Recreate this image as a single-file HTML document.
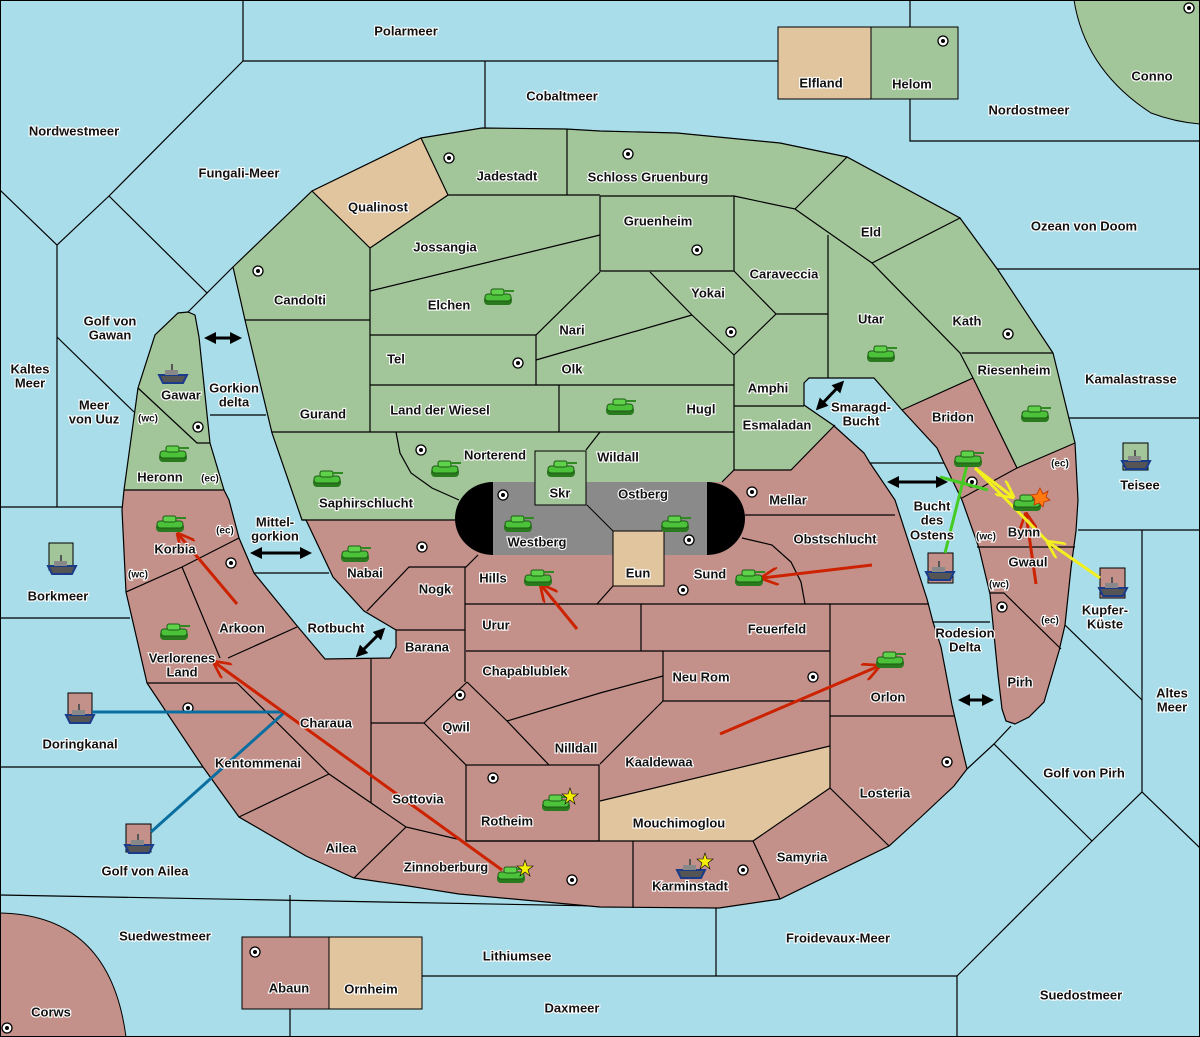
<!DOCTYPE html>
<html><head><meta charset="utf-8"><style>
html,body{margin:0;padding:0;background:#a9dde9}
svg{display:block}
text{font-family:"Liberation Sans",sans-serif;font-weight:bold;font-size:13px;fill:#111;stroke:#fff;stroke-width:2.2px;paint-order:stroke;text-anchor:middle;dominant-baseline:middle}
text.s{font-size:10px}
.b{fill:none;stroke:#000;stroke-width:1.2}
</style></head><body>
<svg width="1200" height="1037" viewBox="0 0 1200 1037" xmlns="http://www.w3.org/2000/svg">
<defs>
<clipPath id="land"><polygon id="lp" points="233,267 312,191 421,138 482,128 566,129 600,131 677,133 780,143 847,157 960,218 998,270 1053,353 1075,443 1078,500 1076,531 1071,568 1065,625 1059,651 1044,702 1029,717 1015,724 1006,721 1002,709 998,675 990,594 979,548 962,500 944,463 937,448 902,410 874,378 809,378 804,383 804,405 833,425 864,453 870,463 895,500 906,534 927,599 933,622 941,647 952,705 960,740 967,769 954,786 921,817 889,846 780,899 719,908 600,907 459,894 402,885 354,878 306,856 239,817 203,767 147,683 126,592 122,510 124,490 138,388 155,335 178,313 188,312 195,315 199,337 210,443 224,490 229,500 239,538 254,573 298,627 325,659 390,658 396,647 396,630 364,611 333,577 306,520 302,520 272,433 245,320"/></clipPath>
<g id="tank"><rect x="-14" y="-2" width="28" height="9" rx="4" fill="#2a7a1e"/><rect x="-13" y="-4" width="26" height="7" rx="3" fill="#4cc23a" stroke="#1d5a14" stroke-width="1"/><rect x="-7" y="-9" width="13" height="6" rx="2" fill="#5fd14a" stroke="#1d5a14" stroke-width="1"/><rect x="5" y="-8" width="11" height="2" fill="#2f8a22"/></g>
<g id="ship"><path d="M-14,0 H14 L10,8 H-10 Z" fill="#555" stroke="#1a3a8a" stroke-width="2"/><rect x="-8" y="-5" width="13" height="5" fill="#888"/><rect x="-2" y="-11" width="2" height="6" fill="#555"/></g>
<g id="sc"><circle r="5" fill="#fff" stroke="#000" stroke-width="1.3"/><circle r="2" fill="#000"/></g>
<marker id="ar" viewBox="0 0 10 10" refX="9" refY="5" markerWidth="6" markerHeight="6" orient="auto"><path d="M0,0 L10,5 L0,10" fill="none" stroke="#cc2200" stroke-width="1.5"/></marker>
<marker id="ay" viewBox="0 0 10 10" refX="9" refY="5" markerWidth="6" markerHeight="6" orient="auto"><path d="M0,0 L10,5 L0,10" fill="none" stroke="#f3f020" stroke-width="1.5"/></marker>
<marker id="dh" viewBox="0 0 10 10" refX="5" refY="5" markerWidth="4" markerHeight="4" orient="auto-start-reverse"><path d="M0,0 L10,5 L0,10 Z" fill="#000"/></marker>
</defs>
<rect width="1200" height="1037" fill="#a9dde9"/>
<g class="b">
<polyline points="243,0 243,61 778,61"/><line x1="485" y1="61" x2="485" y2="128"/>
<polyline points="243,61 109,196 57,245 0,190"/><line x1="57" y1="245" x2="57" y2="507"/>
<polyline points="109,196 207,293 188,312"/><line x1="207" y1="293" x2="233" y2="267"/>
<line x1="57" y1="337" x2="134" y2="412"/><line x1="0" y1="507" x2="122" y2="507"/>
<line x1="210" y1="415" x2="266" y2="415"/><line x1="254" y1="573" x2="329" y2="573"/>
<line x1="0" y1="618" x2="130" y2="618"/><line x1="0" y1="767" x2="203" y2="767"/>
<polyline points="0,895 600,906"/><line x1="290" y1="895" x2="290" y2="1037"/>
<line x1="422" y1="976" x2="600" y2="976"/><line x1="716" y1="907" x2="716" y2="976"/>
<polyline points="600,976 957,976 957,1037"/>
<polyline points="957,976 1092,841 1142,792 1200,848"/>
<polyline points="1092,841 994,744 967,769"/><line x1="994" y1="744" x2="1011" y2="726"/>
<line x1="1142" y1="792" x2="1142" y2="530"/><line x1="1078" y1="530" x2="1200" y2="530"/>
<line x1="1065" y1="625" x2="1142" y2="700"/>
<line x1="933" y1="622" x2="990" y2="622"/><line x1="870" y1="463" x2="944" y2="463"/>
<line x1="910" y1="0" x2="910" y2="27"/><polyline points="910,99 910,141 1200,141"/>
<line x1="996" y1="269" x2="1200" y2="269"/><line x1="1069" y1="418" x2="1200" y2="418"/>
</g>
<path d="M1074,0 Q1085,70 1151,113 Q1175,122 1200,124 V0 Z" fill="#a3c59a" stroke="#000"/>
<path d="M0,913 Q110,915 126,1037 H0 Z" fill="#c4918a" stroke="#000"/>
<rect x="778" y="27" width="93" height="72" fill="#e1c59e" stroke="#000"/>
<rect x="871" y="27" width="87" height="72" fill="#a3c59a" stroke="#000"/>
<rect x="242" y="937" width="87" height="72" fill="#c4918a" stroke="#000"/>
<rect x="329" y="937" width="93" height="72" fill="#e1c59e" stroke="#000"/>
<g clip-path="url(#land)">
<rect width="1200" height="1037" fill="#c4918a"/>
<polygon points="0,0 1200,0 1200,443 1075,443 1017,468 973,378 902,410 840,420 835,425 791,470 734,470 722,482 493,482 493,520 300,520 240,490 0,490" fill="#a3c59a"/>
<polygon points="312,191 370,248 448,195 421,138 300,130" fill="#e1c59e"/>
<polygon points="600,801 830,746 830,788 753,841 600,841" fill="#e1c59e"/>
</g>
<use href="#lp" fill="none" stroke="#000" stroke-width="1.2"/>
<g class="b">
<polyline points="312,191 370,248 448,195 421,138"/>
<line x1="370" y1="248" x2="370" y2="432"/><line x1="448" y1="195" x2="600" y2="195"/>
<polyline points="600,196 734,196 734,271 600,271 600,196"/>
<line x1="567" y1="129" x2="567" y2="195"/>
<line x1="370" y1="291" x2="600" y2="235"/>
<polyline points="370,335 536,335 600,272"/><line x1="536" y1="335" x2="536" y2="385"/>
<polyline points="650,272 692,315 734,355"/><line x1="692" y1="315" x2="536" y2="360"/>
<line x1="370" y1="385" x2="734" y2="385"/><line x1="559" y1="385" x2="559" y2="432"/>
<line x1="245" y1="320" x2="370" y2="320"/><line x1="272" y1="432" x2="734" y2="432"/>
<polyline points="396,432 400,453 411,473 432,488 459,500"/>
<line x1="586" y1="450" x2="600" y2="432"/>
<polyline points="138,388 197,443 210,443"/><line x1="124" y1="490" x2="224" y2="490"/>
<polyline points="847,157 795,209 734,196"/>
<polyline points="795,209 872,263 960,353 973,378"/><line x1="872" y1="263" x2="960" y2="218"/>
<line x1="962" y1="353" x2="1053" y2="353"/>
<line x1="828" y1="235" x2="828" y2="378"/><line x1="776" y1="314" x2="828" y2="314"/>
<polyline points="734,271 776,314 734,355"/>
<line x1="734" y1="355" x2="734" y2="470"/><line x1="734" y1="406" x2="804" y2="406"/>
<polyline points="722,482 734,470 791,470 835,425"/>
<polyline points="902,410 973,378 1017,468 1075,443"/><line x1="962" y1="498" x2="1017" y2="468"/>
<line x1="745" y1="515" x2="895" y2="515"/>
<polyline points="742,538 772,545 791,562 801,582 805,604"/>
<line x1="302" y1="520" x2="455" y2="520"/>
<line x1="465" y1="604" x2="929" y2="604"/><line x1="641" y1="604" x2="641" y2="651"/>
<polyline points="367,611 409,567 466,567 478,555"/><line x1="396" y1="630" x2="465" y2="630"/>
<line x1="465" y1="567" x2="465" y2="682"/><line x1="466" y1="651" x2="830" y2="651"/>
<line x1="830" y1="604" x2="830" y2="788"/><polyline points="663,651 663,701 830,701"/>
<polyline points="507,721 600,693 663,676"/><polyline points="600,764 663,701"/>
<polyline points="467,682 507,721 549,765"/>
<polyline points="467,682 424,723 466,765"/>
<line x1="371" y1="659" x2="371" y2="803"/><line x1="371" y1="723" x2="424" y2="723"/>
<polyline points="600,801 830,746"/><polyline points="830,788 753,841 466,841"/>
<rect x="466" y="765" width="133" height="76"/>
<line x1="830" y1="716" x2="954" y2="716"/><line x1="830" y1="788" x2="889" y2="846"/>
<line x1="753" y1="841" x2="780" y2="899"/><line x1="633" y1="841" x2="633" y2="908"/>
<line x1="977" y1="547" x2="1075" y2="547"/>
<polyline points="990,593 1004,593 1061,649"/>
<polyline points="126,592 182,567 239,538"/><line x1="182" y1="567" x2="220" y2="658"/>
<line x1="147" y1="683" x2="237" y2="683"/><line x1="228" y1="658" x2="297" y2="627"/>
<polyline points="237,683 329,774 406,827 457,839"/><line x1="239" y1="817" x2="329" y2="774"/>
<line x1="406" y1="827" x2="354" y2="878"/><line x1="597" y1="604" x2="613" y2="586"/>
</g>
<path d="M493,482 H707 A38,36.5 0 0 1 707,555 H493 A38,36.5 0 0 1 493,482 Z" fill="#000"/>
<rect x="493" y="482" width="214" height="73" fill="#8a8a8a"/>
<line x1="587" y1="505" x2="613" y2="531" stroke="#000"/>
<rect x="535" y="451" width="51" height="54" fill="#a3c59a" stroke="#000"/>
<rect x="613" y="531" width="51" height="55" fill="#e1c59e" stroke="#000"/>
<rect x="49" y="543" width="24" height="27" fill="#a3c59a" stroke="#000"/>
<rect x="1123" y="443" width="25" height="27" fill="#a3c59a" stroke="#000"/>
<rect x="68" y="693" width="24" height="27" fill="#c4918a" stroke="#000"/>
<rect x="126" y="824" width="25" height="28" fill="#c4918a" stroke="#000"/>
<rect x="928" y="553" width="25" height="30" fill="#c4918a" stroke="#000"/>
<rect x="1100" y="568" width="25" height="30" fill="#c4918a" stroke="#000"/>
<g>
<use href="#sc" x="449" y="158"/><use href="#sc" x="628" y="154"/><use href="#sc" x="697" y="250"/><use href="#sc" x="943" y="41"/><use href="#sc" x="258" y="271"/><use href="#sc" x="518" y="363"/><use href="#sc" x="731" y="332"/><use href="#sc" x="1008" y="334"/><use href="#sc" x="198" y="427"/><use href="#sc" x="421" y="450"/><use href="#sc" x="503" y="495"/><use href="#sc" x="689" y="540"/><use href="#sc" x="752" y="492"/><use href="#sc" x="422" y="547"/><use href="#sc" x="231" y="563"/><use href="#sc" x="972" y="482"/><use href="#sc" x="683" y="590"/><use href="#sc" x="1002" y="607"/><use href="#sc" x="188" y="708"/><use href="#sc" x="460" y="695"/><use href="#sc" x="813" y="677"/><use href="#sc" x="947" y="762"/><use href="#sc" x="493" y="778"/><use href="#sc" x="572" y="880"/><use href="#sc" x="743" y="870"/><use href="#sc" x="255" y="952"/><use href="#sc" x="7" y="1028"/><use href="#sc" x="1189" y="8"/>
</g>
<g stroke-width="3" fill="none">
<line x1="92" y1="712" x2="285" y2="712" stroke="#0a6fa0"/><line x1="285" y1="712" x2="151" y2="832" stroke="#0a6fa0"/>
<line x1="237" y1="604" x2="178" y2="534" stroke="#cc2200" marker-end="url(#ar)"/>
<line x1="502" y1="870" x2="214" y2="662" stroke="#cc2200" marker-end="url(#ar)"/>
<line x1="577" y1="629" x2="541" y2="585" stroke="#cc2200" marker-end="url(#ar)"/>
<line x1="872" y1="565" x2="762" y2="578" stroke="#cc2200" marker-end="url(#ar)"/>
<line x1="720" y1="734" x2="879" y2="666" stroke="#cc2200" marker-end="url(#ar)"/>
<line x1="1036" y1="584" x2="1026" y2="514" stroke="#cc2200" marker-end="url(#ar)"/>
<line x1="945" y1="553" x2="967" y2="465" stroke="#44cc22"/><line x1="940" y1="477" x2="988" y2="490" stroke="#44cc22"/>
<line x1="1100" y1="578" x2="1048" y2="542" stroke="#f3f020" marker-end="url(#ay)"/>
<line x1="1048" y1="542" x2="975" y2="468" stroke="#f3f020"/><line x1="975" y1="468" x2="1013" y2="497" stroke="#f3f020" marker-end="url(#ay)"/>
</g>
<g stroke="#000" stroke-width="3" marker-start="url(#dh)" marker-end="url(#dh)">
<line x1="210" y1="338" x2="236" y2="338"/><line x1="256" y1="553" x2="306" y2="553"/>
<line x1="360" y1="653" x2="381" y2="632"/><line x1="820" y1="406" x2="840" y2="385"/>
<line x1="893" y1="482" x2="942" y2="482"/><line x1="964" y1="700" x2="988" y2="700"/>
</g>
<g>
<use href="#tank" x="498" y="298"/><use href="#tank" x="620" y="408"/><use href="#tank" x="881" y="355"/><use href="#tank" x="1035" y="415"/><use href="#tank" x="173" y="455"/><use href="#tank" x="327" y="480"/><use href="#tank" x="445" y="470"/><use href="#tank" x="561" y="470"/><use href="#tank" x="518" y="525"/><use href="#tank" x="675" y="525"/><use href="#tank" x="355" y="555"/><use href="#tank" x="170" y="525"/><use href="#tank" x="538" y="579"/><use href="#tank" x="749" y="579"/><use href="#tank" x="174" y="633"/><use href="#tank" x="890" y="661"/><use href="#tank" x="556" y="804"/><use href="#tank" x="511" y="876"/><use href="#tank" x="968" y="460"/><use href="#tank" x="1027" y="504"/>
<use href="#ship" x="173" y="375"/><use href="#ship" x="940" y="572"/><use href="#ship" x="691" y="870"/><use href="#ship" x="62" y="566"/><use href="#ship" x="1136" y="461"/><use href="#ship" x="80" y="715"/><use href="#ship" x="139" y="845"/><use href="#ship" x="1113" y="588"/>
</g>
<g fill="#f5f000" stroke="#000" stroke-width="0.6">
<polygon points="570,788 572,794 578,794 573,798 575,804 570,800 565,804 567,798 562,794 568,794"/>
<polygon points="525,860 527,866 533,866 528,870 530,876 525,872 520,876 522,870 517,866 523,866"/>
<polygon points="705,853 707,859 713,859 708,863 710,869 705,865 700,869 702,863 697,859 703,859"/>
</g>
<polygon points="1040,488 1043,494 1048,491 1046,497 1050,500 1044,502 1043,507 1039,503 1034,505 1035,499 1031,495 1037,494" fill="#ff7a10" stroke="#c03000" stroke-width="0.8"/>
<g>
<text x="406" y="32">Polarmeer</text><text x="562" y="97">Cobaltmeer</text><text x="821" y="84">Elfland</text><text x="912" y="85">Helom</text><text x="1152" y="77">Conno</text>
<text x="74" y="132">Nordwestmeer</text><text x="239" y="174">Fungali-Meer</text><text x="1029" y="111">Nordostmeer</text>
<text x="507" y="177">Jadestadt</text><text x="648" y="178">Schloss Gruenburg</text><text x="378" y="208">Qualinost</text><text x="658" y="222">Gruenheim</text>
<text x="1084" y="227">Ozean von Doom</text><text x="871" y="233">Eld</text><text x="445" y="248">Jossangia</text><text x="784" y="275">Caraveccia</text>
<text x="300" y="301">Candolti</text><text x="708" y="294">Yokai</text><text x="449" y="306">Elchen</text>
<text x="110" y="322">Golf von</text><text x="110" y="336">Gawan</text><text x="572" y="331">Nari</text><text x="871" y="320">Utar</text><text x="967" y="322">Kath</text>
<text x="396" y="360">Tel</text><text x="572" y="370">Olk</text><text x="30" y="370">Kaltes</text><text x="30" y="384">Meer</text>
<text x="1014" y="371">Riesenheim</text><text x="1131" y="380">Kamalastrasse</text><text x="234" y="389">Gorkion</text><text x="234" y="403">delta</text>
<text x="181" y="396">Gawar</text><text x="768" y="389">Amphi</text><text x="94" y="406">Meer</text><text x="94" y="420">von Uuz</text><text class="s" x="148" y="419">(wc)</text>
<text x="861" y="408">Smaragd-</text><text x="861" y="422">Bucht</text><text x="440" y="411">Land der Wiesel</text><text x="701" y="410">Hugl</text><text x="323" y="415">Gurand</text>
<text x="953" y="418">Bridon</text><text x="777" y="426">Esmaladan</text><text x="495" y="456">Norterend</text><text x="618" y="458">Wildall</text>
<text x="160" y="478">Heronn</text><text class="s" x="210" y="479">(ec)</text><text class="s" x="1060" y="464">(ec)</text><text x="1140" y="486">Teisee</text>
<text x="560" y="494">Skr</text><text x="643" y="495">Ostberg</text><text x="788" y="501">Mellar</text><text x="366" y="504">Saphirschlucht</text>
<text x="275" y="523">Mittel-</text><text x="275" y="537">gorkion</text><text class="s" x="225" y="531">(ec)</text>
<text x="932" y="507">Bucht</text><text x="932" y="521">des</text><text x="932" y="536">Ostens</text><text class="s" x="986" y="537">(wc)</text><text x="1024" y="533">Bynn</text>
<text x="835" y="540">Obstschlucht</text><text x="537" y="543">Westberg</text><text x="175" y="550">Korbia</text><text x="1028" y="563">Gwaul</text>
<text x="365" y="574">Nabai</text><text class="s" x="138" y="575">(wc)</text><text x="638" y="574">Eun</text><text x="710" y="575">Sund</text><text x="493" y="579">Hills</text>
<text class="s" x="999" y="585">(wc)</text><text x="435" y="590">Nogk</text><text x="58" y="597">Borkmeer</text>
<text x="1105" y="611">Kupfer-</text><text x="1105" y="625">Küste</text><text class="s" x="1050" y="621">(ec)</text>
<text x="496" y="626">Urur</text><text x="777" y="630">Feuerfeld</text><text x="242" y="629">Arkoon</text><text x="336" y="629">Rotbucht</text>
<text x="965" y="634">Rodesion</text><text x="965" y="648">Delta</text><text x="427" y="648">Barana</text>
<text x="182" y="659">Verlorenes</text><text x="182" y="673">Land</text><text x="525" y="672">Chapablublek</text><text x="701" y="678">Neu Rom</text>
<text x="1020" y="683">Pirh</text><text x="888" y="698">Orlon</text><text x="1172" y="694">Altes</text><text x="1172" y="708">Meer</text>
<text x="326" y="724">Charaua</text><text x="456" y="728">Qwil</text><text x="80" y="745">Doringkanal</text><text x="576" y="749">Nilldall</text>
<text x="659" y="763">Kaaldewaa</text><text x="258" y="764">Kentommenai</text><text x="1084" y="774">Golf von Pirh</text><text x="885" y="794">Losteria</text>
<text x="418" y="800">Sottovia</text><text x="507" y="822">Rotheim</text><text x="679" y="824">Mouchimoglou</text><text x="341" y="849">Ailea</text>
<text x="802" y="858">Samyria</text><text x="446" y="868">Zinnoberburg</text><text x="145" y="872">Golf von Ailea</text><text x="690" y="887">Karminstadt</text>
<text x="165" y="937">Suedwestmeer</text><text x="838" y="939">Froidevaux-Meer</text><text x="517" y="957">Lithiumsee</text>
<text x="289" y="989">Abaun</text><text x="371" y="990">Ornheim</text><text x="1081" y="996">Suedostmeer</text><text x="572" y="1009">Daxmeer</text><text x="51" y="1013">Corws</text>
</g>
<rect x="0.5" y="0.5" width="1199" height="1036" fill="none" stroke="#000"/>
</svg>
</body></html>
